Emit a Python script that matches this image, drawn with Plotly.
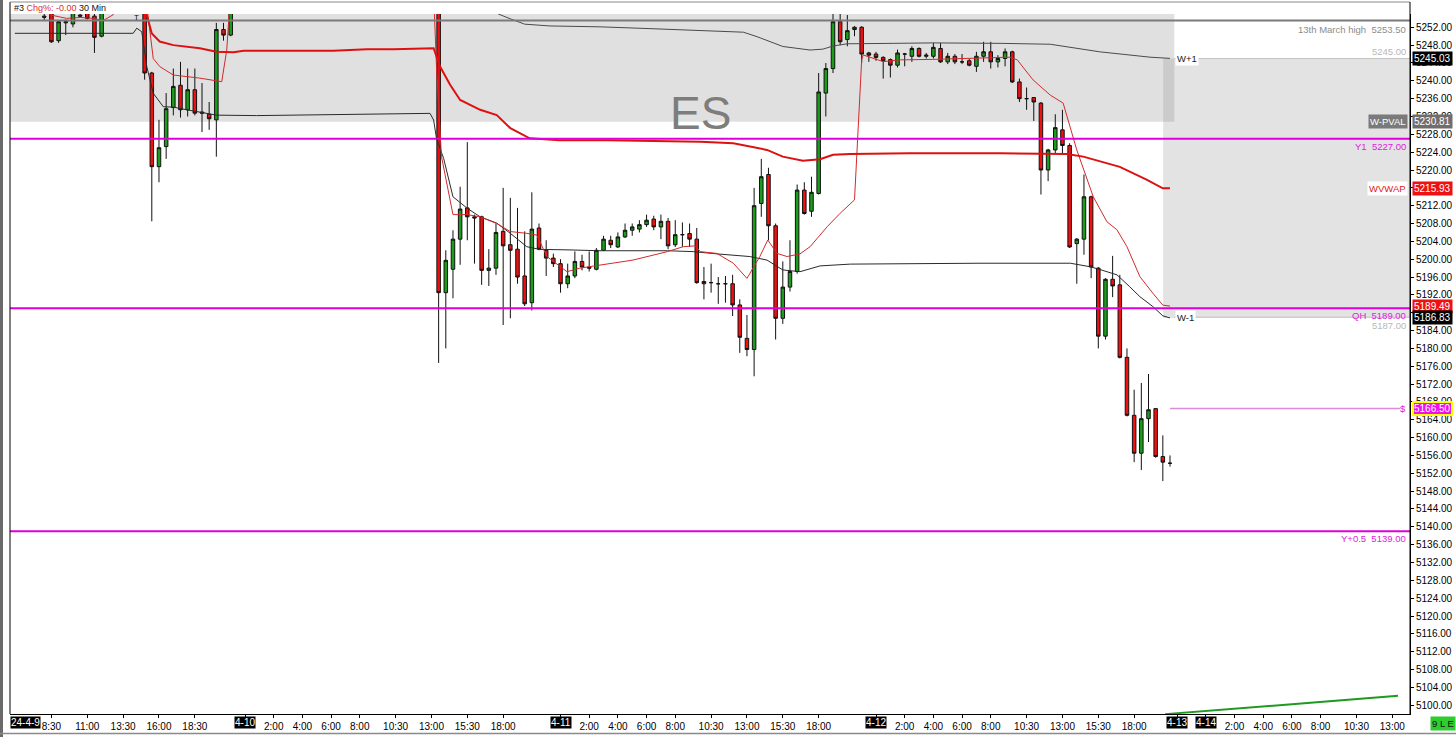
import plotly.graph_objects as go

# ---------------- data (30-min bars, slot index = position on the time axis) ----------------
slots = list(range(5, 163))
N = None
opens = [5254.5, 5256.0, 5249.0, 5253.0, 5252.75, 5254.75, 5255.5, 5254.5, 5250.0,
         N, N, N, N, N,
         5258.0, 5241.75, 5220.75, 5225.25, 5234.0, 5239.0, 5233.5, 5238.0, 5233.0, 5232.5, 5231.25, 5251.5, 5250.25,
         N, N, N, N, N, N, N, N, N, N, N, N, N, N, N, N, N, N, N, N, N, N, N, N, N, N, N, N,
         5257.0, 5192.5, 5197.75, 5204.5, 5211.5, 5209.5, 5209.5, 5197.5, 5198.0, 5206.25,
         5203.25, 5202.25, 5196.25, 5190.25, 5207.0, 5202.0, 5200.25, 5199.0, 5194.5, 5196.25,
         5199.5, 5198.25, 5197.75, 5202.0, 5204.25, 5202.75, 5205.0, 5206.5, 5206.75, 5207.75,
         5209.0, 5207.25, 5208.5, 5203.25, 5205.5, 5205.75, 5204.5, 5195.0, 5194.75, 5194.5,
         5194.5, 5194.5, 5189.75, 5182.25, 5179.75, 5212.5, 5219.0, 5207.5, 5186.75, 5193.75,
         5197.25, 5215.5, 5210.75, 5214.75, 5237.25, 5242.75, 5253.25, 5249.25, 5251.5, 5252.0,
         5246.25, 5246.0, 5245.25, 5244.75, 5243.5, 5246.0, 5245.5, 5247.25, 5245.5, 5245.5,
         5247.25, 5244.25, 5245.5, 5244.25, 5244.5, 5243.25, 5245.5, 5246.5, 5244.25, 5245.0,
         5246.5, 5239.75, 5236.0, 5236.25, 5235.0, 5220.0, 5224.5, 5229.0, 5225.5, 5203.5,
         5204.5, 5214.0, 5198.0, 5182.75, 5195.5, 5194.25, 5178.0, 5165.0, 5156.5, 5164.25,
         5166.5, 5155.75, 5154.25]
highs = [5256.0, 5256.5, 5253.5, 5253.75, 5256.5, 5256.0, 5256.0, 5255.5, 5256.5,
         N, N, N, N, N,
         5258.5, 5242.0, 5231.25, 5237.25, 5242.75, 5244.25, 5242.75, 5242.75, 5239.5, 5235.25, 5253.0, 5253.0, 5257.0,
         N, N, N, N, N, N, N, N, N, N, N, N, N, N, N, N, N, N, N, N, N, N, N, N, N, N, N, N,
         5257.5, 5202.0, 5206.5, 5216.25, 5226.25, 5210.0, 5209.75, 5202.25, 5208.0, 5216.0,
         5213.75, 5211.5, 5206.25, 5215.0, 5208.0, 5204.25, 5201.25, 5200.0, 5199.0, 5201.75,
         5201.0, 5201.75, 5202.5, 5205.25, 5205.25, 5206.0, 5208.0, 5208.0, 5208.75, 5210.0,
         5209.75, 5210.0, 5209.25, 5208.75, 5208.25, 5208.0, 5207.0, 5198.25, 5199.0, 5196.0,
         5196.25, 5196.5, 5191.0, 5187.5, 5216.0, 5222.5, 5220.5, 5208.0, 5199.5, 5204.25,
         5216.75, 5217.25, 5218.5, 5241.75, 5244.0, 5256.0, 5256.0, 5254.75, 5252.25, 5252.25,
         5246.5, 5246.5, 5245.5, 5245.0, 5247.0, 5246.25, 5247.75, 5247.5, 5246.25, 5248.5,
         5248.5, 5246.25, 5246.0, 5246.0, 5245.0, 5246.5, 5248.75, 5248.75, 5245.75, 5247.25,
         5246.75, 5240.5, 5238.5, 5236.25, 5235.25, 5224.75, 5232.5, 5233.5, 5226.0, 5204.75,
         5219.0, 5214.25, 5198.25, 5195.75, 5200.75, 5196.5, 5180.0, 5170.75, 5172.25, 5174.25,
         5166.5, 5160.5, 5156.0]
lows = [5253.5, 5248.5, 5248.5, 5250.25, 5252.0, 5254.25, 5253.75, 5246.25, 5249.75,
        N, N, N, N, N,
        5240.25, 5208.5, 5217.25, 5222.5, 5232.25, 5231.75, 5232.0, 5232.25, 5228.5, 5229.0, 5223.0, 5249.0, 5250.0,
        N, N, N, N, N, N, N, N, N, N, N, N, N, N, N, N, N, N, N, N, N, N, N, N, N, N, N, N,
        5176.75, 5180.0, 5191.25, 5198.75, 5204.25, 5199.0, 5194.25, 5194.0, 5196.5, 5185.25,
        5186.75, 5194.5, 5189.5, 5188.5, 5202.0, 5196.25, 5198.25, 5192.5, 5193.5, 5195.75,
        5197.5, 5197.25, 5197.5, 5202.0, 5202.5, 5202.5, 5204.75, 5205.25, 5206.0, 5207.25,
        5206.5, 5204.5, 5202.25, 5202.75, 5202.75, 5202.75, 5194.5, 5191.0, 5192.5, 5190.0,
        5190.25, 5187.25, 5179.0, 5178.25, 5173.75, 5209.5, 5204.25, 5182.0, 5185.5, 5192.75,
        5196.75, 5210.0, 5209.5, 5214.5, 5232.0, 5241.75, 5248.0, 5247.75, 5250.0, 5244.0,
        5244.25, 5244.5, 5240.5, 5240.75, 5243.0, 5243.25, 5244.25, 5245.25, 5245.0, 5245.0,
        5244.0, 5243.75, 5243.75, 5243.75, 5243.25, 5242.0, 5244.25, 5242.75, 5243.0, 5243.25,
        5239.5, 5235.25, 5233.5, 5231.0, 5214.5, 5217.5, 5223.75, 5223.5, 5202.5, 5194.5,
        5201.0, 5195.75, 5180.0, 5182.0, 5191.5, 5177.75, 5164.75, 5154.5, 5152.75, 5159.0,
        5155.5, 5150.25, 5153.5]
closes = [5254.25, 5248.75, 5253.25, 5253.25, 5256.0, 5254.5, 5254.0, 5249.75, 5256.0,
          N, N, N, N, N,
          5241.75, 5220.75, 5225.0, 5233.75, 5238.75, 5233.5, 5238.0, 5232.75, 5232.75, 5231.5, 5251.5, 5250.25, 5256.5,
          N, N, N, N, N, N, N, N, N, N, N, N, N, N, N, N, N, N, N, N, N, N, N, N, N, N, N, N,
          5192.5, 5199.75, 5204.5, 5211.25, 5209.5, 5209.25, 5197.5, 5198.0, 5206.0, 5203.0,
          5202.0, 5196.0, 5190.0, 5206.75, 5202.25, 5200.25, 5199.0, 5194.5, 5196.25, 5199.5,
          5198.25, 5198.0, 5202.0, 5204.5, 5203.25, 5205.0, 5206.5, 5207.25, 5207.75, 5208.75,
          5207.25, 5208.5, 5203.0, 5205.5, 5205.5, 5204.5, 5194.75, 5194.5, 5194.75, 5194.5,
          5194.5, 5189.75, 5182.5, 5179.75, 5212.0, 5218.5, 5207.5, 5186.75, 5193.75, 5197.25,
          5215.5, 5210.25, 5215.0, 5237.5, 5242.75, 5253.25, 5248.75, 5251.25, 5252.0, 5246.0,
          5245.75, 5245.25, 5244.5, 5243.5, 5246.25, 5246.0, 5247.25, 5245.5, 5245.75, 5247.5,
          5244.25, 5245.5, 5244.25, 5244.25, 5243.5, 5245.5, 5246.5, 5244.25, 5245.0, 5246.5,
          5239.75, 5236.0, 5236.0, 5235.25, 5220.0, 5224.5, 5229.5, 5225.5, 5202.75, 5204.5,
          5214.0, 5198.25, 5182.75, 5195.5, 5194.0, 5178.0, 5165.0, 5156.5, 5164.25, 5166.25,
          5155.75, 5154.5, 5154.25]

# indicator lines (slot position, price)
wvwap_x = [19.0, 19.3, 20.0, 21.1, 23.0, 26.7, 29.0, 31.4, 32.8, 45.3, 50.0, 53.7, 58.8, 59.3, 60.2, 61.6,
           63.0, 65.8, 68.1, 70.0, 72.7, 76.9, 83.5, 96.5, 101.1, 105.8, 108.0, 110.8, 113.2, 115.0,
           117.4, 125.7, 138.3, 147.6, 149.9, 152.2, 155.0, 158.8, 161.0, 162.0]
wvwap_y = [5256.5, 5254.8, 5250.6, 5248.8, 5248.0, 5247.3, 5246.5, 5246.4, 5246.75, 5246.75, 5247.1, 5247.1,
           5247.4, 5247.3, 5243.2, 5239.1, 5235.7, 5233.5, 5232.3, 5229.4, 5227.1, 5226.7, 5226.7, 5226.35,
           5226.0, 5224.5, 5223.0, 5222.1, 5222.4, 5223.4, 5223.6, 5223.75, 5223.75, 5223.6, 5223.0,
           5221.9, 5220.7, 5217.8, 5215.9, 5215.93]
dvwap_x = [5.5, 5.8, 8.1, 10.0, 11.8, 13.2, 14.6, 15.0, None,
           19.4, 20.2, 21.1, 23.0, 26.7, 29.75, 30.45, 30.8, None,
           59.4, 59.7, 60.4, 62.0, 64.0, 65.8, 68.1, 70.0, 72.3, 73.7, 75.1, 76.9, 77.9, 79.7, 82.5,
           87.1, 91.9, 94.1, 95.8, 96.5, 98.8, 101.1, 103.0, 104.8, 105.9, 107.2, 108.6, 110.4, 111.8,
           114.2, 116.0, 118.0, 119.0, 119.2, 122.0, 124.4, 128.9, 139.7, 140.7, 142.9, 145.3, 147.1,
           149.0, 151.3, 153.2, 154.6, 156.0, 157.8, 159.6, 161.0, 162.0]
dvwap_y = [5255.5, 5254.8, 5254.0, 5254.2, 5254.0, 5253.5, 5254.8, 5256.0, None,
           5255.5, 5245.0, 5243.2, 5241.3, 5240.6, 5239.8, 5246.9, 5255.5, None,
           5255.5, 5243.2, 5223.0, 5210.0, 5210.0, 5209.5, 5208.0, 5206.2, 5205.8, 5205.4, 5200.6,
           5198.3, 5197.2, 5198.0, 5198.7, 5199.8, 5201.7, 5202.8, 5203.0, 5201.7, 5201.3, 5199.1,
           5195.7, 5200.6, 5204.3, 5201.3, 5200.6, 5201.2, 5202.8, 5207.3, 5210.3, 5213.3, 5244.7,
           5245.8, 5244.3, 5244.7, 5244.8, 5245.3, 5244.7, 5240.2, 5236.8, 5235.0, 5224.5, 5214.0,
           5208.4, 5206.6, 5202.8, 5196.1, 5192.4, 5189.7, 5189.49]
wlow_x = [0.9, 17.4, 17.9, 18.6, 19.3, 20.2, 21.6, 23.0, 24.9, 27.7, 29.05, 34.6, 48.6, 52.8, 58.8, 59.3,
          59.7, 60.7, 62.0, 64.0, 65.8, 68.1, 70.0, 72.3, 74.1, 77.9, 82.5, 91.9, 95.5, 98.8, 103.4,
          105.8, 108.0, 110.4, 113.2, 117.4, 124.4, 135.5, 148.1, 150.9, 152.2, 154.6, 156.4, 157.8,
          159.6, 161.0, 162.0]
wlow_y = [5250.65, 5250.65, 5251.8, 5251.0, 5243.2, 5237.2, 5234.2, 5234.1, 5233.5, 5232.7, 5232.3,
          5232.2, 5232.5, 5232.7, 5232.7, 5231.2, 5227.1, 5222.6, 5214.0, 5211.4, 5209.5, 5208.1,
          5205.8, 5202.8, 5202.2, 5202.1, 5201.9, 5201.9, 5201.7, 5201.2, 5200.6, 5199.8, 5197.6,
          5197.2, 5198.5, 5198.9, 5199.0, 5199.1, 5199.1, 5198.3, 5197.7, 5196.5, 5193.8, 5191.6,
          5189.4, 5187.3, 5186.83]
whigh_x = [67.5, 68.3, 70.0, 72.0, 75.5, 82.5, 89.5, 96.5, 102.5, 104.4, 108.0, 111.8, 113.6, 115.0,
           117.0, 123.4, 128.9, 138.3, 145.3, 152.2, 156.9, 159.2, 162.0]
whigh_y = [5256.5, 5255.0, 5253.9, 5252.7, 5252.3, 5252.1, 5251.7, 5251.2, 5250.9, 5249.9, 5247.7,
           5246.9, 5247.1, 5247.8, 5248.3, 5248.4, 5248.5, 5248.4, 5248.2, 5246.5, 5245.6, 5245.3, 5245.03]
osc_x = [161.3, 193.8]
osc_y = [5098.0, 5102.1]

# levels
march_high = 5253.50
y1_level = 5227.00
qh_level = 5189.00
yhalf_level = 5139.00
alert_level = 5166.50
w_pval = 5230.81
w_plus1 = 5245.03
w_minus1 = 5186.83
wvwap_last = 5215.93
dvwap_last = 5189.49

# axis ticks (labels fully hidden behind price boxes are left blank)
price_ticks = list(range(5100, 5253, 4))
hidden_price_ticks = [5216, 5188]
tick_idx = [6, 11, 16, 21, 26, 33, 37, 41, 45, 49, 54, 59, 64, 69,
            77, 81, 85, 89, 93, 98, 103, 108, 113,
            121, 125, 129, 133, 137, 142, 147, 152, 157,
            163, 167, 171, 175, 179, 183, 188, 193]
tick_txt = ["8:30", "11:00", "13:30", "16:00", "18:30", "", "2:00", "4:00", "6:00", "8:00", "10:30", "13:00", "15:30", "18:00",
            "", "2:00", "4:00", "6:00", "8:00", "10:30", "13:00", "15:30", "18:00",
            "", "2:00", "4:00", "6:00", "8:00", "10:30", "13:00", "15:30", "18:00",
            "", "", "2:00", "4:00", "6:00", "8:00", "10:30", "13:00"]
date_idx = [33, 77, 121, 163, 167]
date_txt = ["4-10", "4-11", "4-12", "4-13", "4-14"]

# ---------------- figure ----------------
W, H = 1456, 737
ML, MR, MT, MB = 10, 46, 14, 23
PW, PH = W - ML - MR, H - MT - MB
X0, X1 = 0.223, 195.47
Y0, Y1 = 5098.03, 5254.98
FONT = "Liberation Sans, Arial, sans-serif"


def px_x(px):  # window pixel -> paper x
    return (px - ML) / PW


def px_y(py):  # window pixel -> paper y
    return (H - MB - py) / PH


fig = go.Figure()

fig.add_trace(go.Scatter(x=whigh_x, y=whigh_y, mode="lines", line=dict(color="#4a4a4a", width=1),
                         hoverinfo="skip", showlegend=False))
fig.add_trace(go.Scatter(x=wlow_x, y=wlow_y, mode="lines", line=dict(color="#2a2a2a", width=1),
                         hoverinfo="skip", showlegend=False))
fig.add_trace(go.Scatter(x=dvwap_x, y=dvwap_y, mode="lines", line=dict(color="#d42a2a", width=1),
                         connectgaps=False, hoverinfo="skip", showlegend=False))
fig.add_trace(go.Scatter(x=wvwap_x, y=wvwap_y, mode="lines", line=dict(color="#dd1111", width=2),
                         hoverinfo="skip", showlegend=False))
fig.add_trace(go.Candlestick(
    x=slots, open=opens, high=highs, low=lows, close=closes,
    increasing=dict(fillcolor="#1a9e1a", line=dict(color="#111111", width=1)),
    decreasing=dict(fillcolor="#f01010", line=dict(color="#111111", width=1)),
    whiskerwidth=0, hoverinfo="skip", showlegend=False))
fig.add_trace(go.Scatter(x=osc_x, y=osc_y, mode="lines", line=dict(color="#1f9a1f", width=2),
                         hoverinfo="skip", showlegend=False, cliponaxis=False))

shapes = []
# value-area shading
shapes.append(dict(type="rect", xref="x", yref="paper", x0=X0, x1=162.6, y0=(w_pval - Y0) / (Y1 - Y0), y1=1,
                   fillcolor="rgba(128,128,128,0.245)", line=dict(width=0), layer="below"))
shapes.append(dict(type="rect", xref="x", yref="y", x0=161.05, x1=X1, y0=w_minus1, y1=w_plus1,
                   fillcolor="rgba(128,128,128,0.22)", line=dict(width=0), layer="below"))
# level lines
shapes.append(dict(type="line", xref="paper", yref="y", x0=0, x1=1, y0=march_high, y1=march_high,
                   line=dict(color="#7a7a7a", width=2)))
for lv in (y1_level, qh_level, yhalf_level):
    shapes.append(dict(type="line", xref="paper", yref="y", x0=0, x1=1, y0=lv, y1=lv,
                       line=dict(color="#dd00dd", width=2)))
shapes.append(dict(type="line", xref="x", yref="y", x0=162.0, x1=194.1, y0=alert_level, y1=alert_level,
                   line=dict(color="#dc8adc", width=1.5)))
for lv in (5245.0, 5187.0):
    shapes.append(dict(type="line", xref="x", yref="y", x0=162.6, x1=X1, y0=lv, y1=lv,
                       line=dict(color="#c4c4c4", width=1)))
# window frame
shapes.append(dict(type="line", xref="paper", yref="paper", x0=0, x1=0, y0=0, y1=px_y(2),
                   line=dict(color="#000000", width=1)))
shapes.append(dict(type="line", xref="paper", yref="paper", x0=0, x1=1, y0=px_y(2), y1=px_y(2),
                   line=dict(color="#8a8a8a", width=1)))
shapes.append(dict(type="line", xref="paper", yref="paper", x0=1, x1=1, y0=0, y1=px_y(2),
                   line=dict(color="#000000", width=1)))
shapes.append(dict(type="rect", xref="paper", yref="paper", x0=px_x(0), x1=px_x(3), y0=px_y(737), y1=px_y(0),
                   fillcolor="#6a6a6a", line=dict(width=0)))
shapes.append(dict(type="line", xref="paper", yref="paper", x0=px_x(0), x1=px_x(1456), y0=px_y(733.5),
                   y1=px_y(733.5), line=dict(color="#8a8a8a", width=1.5)))

ann = []
RX = px_x(1408)
lab = dict(xref="paper", yref="y", x=RX, xanchor="right", showarrow=False)
ann.append(dict(lab, y=march_high, yanchor="top", yshift=-1, text="13th March high  5253.50",
                font=dict(family=FONT, size=9.5, color="#8c8c8c")))
ann.append(dict(lab, y=5245.0, yanchor="bottom", text="5245.00",
                font=dict(family=FONT, size=9.5, color="#b8b8b8")))
ann.append(dict(lab, y=w_pval, yanchor="middle", text="W-PVAL", bgcolor="#7a7a7a", borderpad=1,
                font=dict(family=FONT, size=9.5, color="#ffffff")))
ann.append(dict(lab, y=y1_level, yanchor="top", text="Y1  5227.00",
                font=dict(family=FONT, size=9.5, color="#dd22dd")))
ann.append(dict(lab, y=wvwap_last, yanchor="middle", text="WVWAP", bgcolor="#ffffff", borderpad=1,
                font=dict(family=FONT, size=9.5, color="#e02020")))
ann.append(dict(lab, y=qh_level, yanchor="top", text="QH  5189.00",
                font=dict(family=FONT, size=9.5, color="#dd22dd")))
ann.append(dict(lab, y=5187.0, yanchor="top", yshift=-1, text="5187.00",
                font=dict(family=FONT, size=9.5, color="#b8b8b8")))
ann.append(dict(lab, y=yhalf_level, yanchor="top", text="Y+0.5  5139.00",
                font=dict(family=FONT, size=9.5, color="#dd22dd")))
ann.append(dict(lab, y=alert_level, yanchor="middle", text="$",
                font=dict(family=FONT, size=9.5, color="#dd22dd")))
ann.append(dict(xref="x", yref="y", x=162.75, y=w_plus1, xanchor="left", yanchor="middle", showarrow=False,
                text="W+1", bgcolor="#ffffff", borderpad=1, font=dict(family=FONT, size=9.5, color="#222222")))
ann.append(dict(xref="x", yref="y", x=162.75, y=w_minus1, xanchor="left", yanchor="middle", showarrow=False,
                text="W-1", bgcolor="#ffffff", borderpad=1, font=dict(family=FONT, size=9.5, color="#222222")))
# price boxes on the axis
for val, bg, fg, bc in [(w_plus1, "#000000", "#ffffff", None), (w_pval, "#6e6e6e", "#ffffff", None),
                        (wvwap_last, "#ee1111", "#ffffff", None), (dvwap_last, "#ee1111", "#ffffff", None),
                        (w_minus1, "#000000", "#ffffff", None), (alert_level, "#ee11ee", "#ffffff", "#ffff00")]:
    d = dict(xref="paper", yref="y", x=1, xshift=2, xanchor="left", y=val, yanchor="middle", showarrow=False,
             text=f"{val:.2f}", bgcolor=bg, borderpad=1, font=dict(family=FONT, size=10, color=fg))
    if bc:
        d.update(bordercolor=bc, borderwidth=2, borderpad=0)
    ann.append(d)
# date boxes on the time axis
for xi, t in zip(date_idx, date_txt):
    ann.append(dict(xref="x", yref="paper", x=xi, y=px_y(722.5), xanchor="center", yanchor="middle",
                    showarrow=False, text=t, bgcolor="#000000", borderpad=0,
                    font=dict(family=FONT, size=10, color="#ffffff")))
ann.append(dict(xref="paper", yref="paper", x=0, y=px_y(722.5), xanchor="left", yanchor="middle",
                showarrow=False, text="24-4-9", bgcolor="#000000", borderpad=0,
                font=dict(family=FONT, size=10, color="#ffffff")))
ann.append(dict(xref="paper", yref="paper", x=px_x(1430), y=px_y(723), xanchor="left", yanchor="middle",
                showarrow=False, text="9 L E", bgcolor="#2ecc2e", borderpad=1,
                font=dict(family=FONT, size=9.5, color="#111111")))
# header, marker and symbol watermark
ann.append(dict(xref="paper", yref="paper", x=px_x(12), y=px_y(8), xanchor="left", yanchor="middle",
                showarrow=False, text='#3 <span style="color:#d83030">Chg%: -0.00</span> 30 Min',
                font=dict(family=FONT, size=9, color="#111111")))
ann.append(dict(xref="x", yref="y", x=17.9, y=5254.2, showarrow=False, text="T",
                font=dict(family=FONT, size=8, color="#111111")))
ann.append(dict(xref="x", yref="y", x=96.5, y=5232.8, showarrow=False, text="ES",
                font=dict(family="Liberation Sans Narrow, Liberation Sans, Arial", size=46, color="#7d7d7d")))

fig.update_layout(
    width=W, height=H, margin=dict(l=ML, r=MR, t=MT, b=MB, pad=0, autoexpand=False),
    paper_bgcolor="#ffffff", plot_bgcolor="#ffffff",
    font=dict(family=FONT, size=10, color="#000000"),
    showlegend=False, shapes=shapes, annotations=ann,
    xaxis=dict(range=[X0, X1], tickmode="array", tickvals=tick_idx, ticktext=tick_txt,
               ticks="outside", ticklen=3, tickcolor="#000000", showline=True, linecolor="#000000",
               linewidth=1, showgrid=False, zeroline=False, rangeslider=dict(visible=False),
               tickfont=dict(family=FONT, size=10, color="#000000")),
    yaxis=dict(range=[Y0, Y1], side="right", tickmode="array", tickvals=price_ticks,
               ticktext=["" if v in hidden_price_ticks else f"{v:.2f}" for v in price_ticks],
               ticks="outside", ticklen=3,
               tickcolor="#000000", showline=True, linecolor="#000000", showgrid=False, zeroline=False,
               tickfont=dict(family=FONT, size=10, color="#000000")),
)

# remove the page's default body margin so the figure fills the window exactly
fig.write_html("out.html", config=dict(displayModeBar=False, staticPlot=True),
               post_script="document.body.style.margin='0px';document.body.style.overflow='hidden';")
